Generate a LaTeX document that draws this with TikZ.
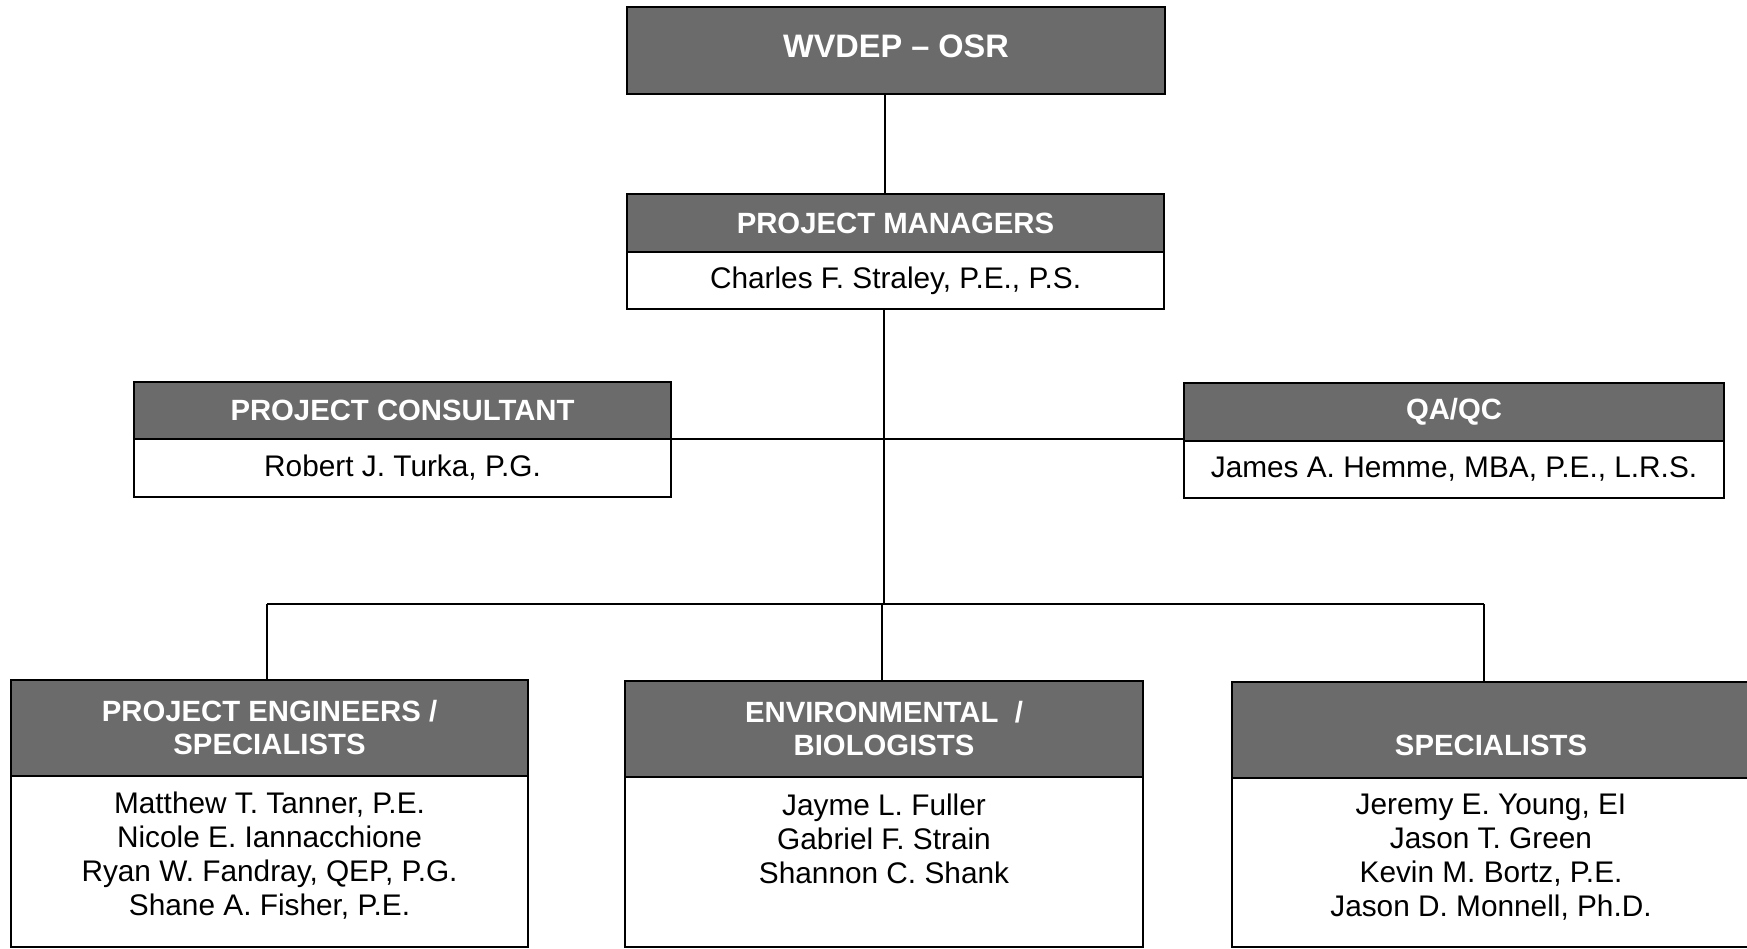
\documentclass[tikz,border=0pt]{standalone}
\usepackage{fontspec}
\setmainfont{Liberation Sans}
\definecolor{hdrgray}{HTML}{6B6B6B}
\begin{document}
\begin{tikzpicture}[x=1pt,y=-1pt,
  every node/.style={inner sep=0pt, outer sep=0pt},
  hdr/.style={draw=black, line width=1.6pt, fill=hdrgray, anchor=north west, text=white,
    font=\fontsize{29.3}{33}\selectfont\bfseries, align=center},
  bodyb/.style={draw=black, line width=1.6pt, fill=white, anchor=north west,
    font=\fontsize{29.8}{34}\selectfont, align=center},
  htxt/.style={text=white, font=\fontsize{29.3}{33}\selectfont\bfseries, align=center},
  ntxt/.style={text=black, font=\fontsize{29.8}{34}\selectfont, align=center},
  conn/.style={draw=black, line width=1.6pt}]
\useasboundingbox (0,0) rectangle (1747,949);

% top
\node[hdr, minimum width=538pt, minimum height=87pt] (wv) at (627,7) {};
\node[htxt, font=\fontsize{32.5}{36}\selectfont\bfseries] (wvt) at (896,46) {WVDEP – OSR};

% project managers
\node[hdr, minimum width=537pt, minimum height=58pt] (pmh) at (627,194) {PROJECT MANAGERS};
\node[bodyb, minimum width=537pt, minimum height=57pt] (pmb) at (627,252) {Charles F. Straley, P.E., P.S.};

% project consultant
\node[hdr, minimum width=537pt, minimum height=57pt] (pch) at (134,382) {PROJECT CONSULTANT};
\node[bodyb, minimum width=537pt, minimum height=58pt] (pcb) at (134,439) {Robert J. Turka, P.G.};

% QA/QC
\node[hdr, minimum width=540pt, minimum height=58pt] (qah) at (1184,383) {QA/QC};
\node[bodyb, minimum width=540pt, minimum height=57pt] (qab) at (1184,441) {James A. Hemme, MBA, P.E., L.R.S.};

% bottom row
\node[hdr, minimum width=517pt, minimum height=96pt] (peh) at (11,680) {PROJECT ENGINEERS /\\SPECIALISTS};
\node[bodyb, minimum width=517pt, minimum height=171pt] (peb) at (11,776) {};
\node[ntxt] (pet) at (269.5,856) {Matthew T. Tanner, P.E.\\Nicole E. Iannacchione\\Ryan W. Fandray, QEP, P.G.\\Shane A. Fisher, P.E.};

\node[hdr, minimum width=518pt, minimum height=96pt] (envh) at (625,681) {ENVIRONMENTAL \ /\\BIOLOGISTS};
\node[bodyb, minimum width=518pt, minimum height=170pt] (envb) at (625,777) {};
\node[ntxt] (envt) at (884,839) {Jayme L. Fuller\\Gabriel F. Strain\\Shannon C. Shank};

\node[hdr, minimum width=520pt, minimum height=96pt] (sph) at (1232,682) {};
\node[htxt] (spt) at (1491,745) {SPECIALISTS};
\node[bodyb, minimum width=520pt, minimum height=169pt] (spb) at (1232,778) {};
\node[ntxt] (spbt) at (1491,857) {Jeremy E. Young, EI\\Jason T. Green\\Kevin M. Bortz, P.E.\\Jason D. Monnell, Ph.D.};

% connectors
\coordinate (tx) at (885,0);
\coordinate (bus) at (884,604);
\coordinate (bl) at (267,604);
\coordinate (br) at (1484,604);
\coordinate (be) at (882,604);
\draw[conn] (wv.south -| tx) -- (pmh.north -| tx);
\draw[conn] (pmb.south -| bus) -- (bus);
\draw[conn] (pch.south east) -- (qah.south west |- pch.south east);
\draw[conn] (bl) -- (br);
\draw[conn] (bl) -- (peh.north -| bl);
\draw[conn] (be) -- (envh.north -| be);
\draw[conn] (br) -- (sph.north -| br);
\end{tikzpicture}
\end{document}
